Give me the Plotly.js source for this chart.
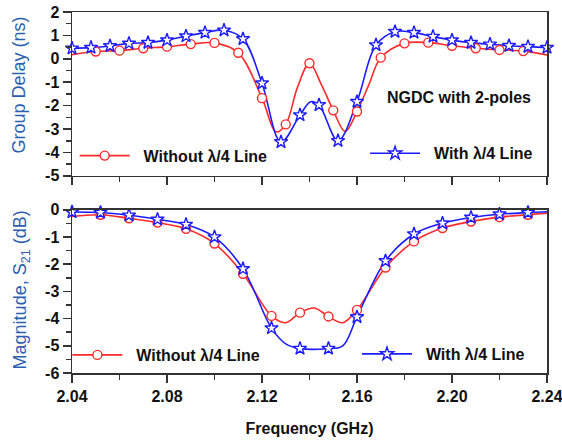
<!DOCTYPE html>
<html><head><meta charset="utf-8">
<script src="https://cdn.plot.ly/plotly-3.0.1.min.js"></script>
<style>html,body{margin:0;padding:0;background:#fff}#chart{width:562px;height:445px}</style>
</head><body><div id="chart"></div>
<script>
// ---------- Group delay (ns) ----------
// Without lambda/4 line: marker points and extra curve points
const gdWithoutMarkX = [2.05,2.06,2.07,2.08,2.09,2.10,2.11,2.12,2.13,2.14,2.15,2.16,2.17,2.18,2.19,2.20,2.21,2.22,2.23];
const gdWithoutMarkY = [0.31,0.35,0.45,0.52,0.63,0.68,0.26,-1.68,-2.80,-0.19,-2.20,-2.25,0.05,0.66,0.69,0.56,0.45,0.38,0.33];
const gdWithoutExtraX = [2.04,2.126,2.135,2.145,2.155,2.165,2.24];
const gdWithoutExtraY = [0.18,-3.12,-1.20,-1.10,-3.10,-1.10,0.17];
// With lambda/4 line
const gdWithMarkX = [2.040,2.048,2.056,2.064,2.072,2.080,2.088,2.096,2.104,2.112,2.120,2.128,2.136,2.144,2.152,2.160,2.168,2.176,2.184,2.192,2.200,2.208,2.216,2.224,2.232,2.240];
const gdWithMarkY = [0.45,0.48,0.55,0.66,0.69,0.80,0.97,1.12,1.22,0.85,-1.04,-3.55,-2.40,-1.97,-3.50,-1.83,0.59,1.16,1.12,0.95,0.80,0.69,0.62,0.56,0.52,0.48];
const gdWithExtraX = [2.1405];
const gdWithExtraY = [-1.83];

// ---------- Magnitude S21 (dB) ----------
const s21WithoutMarkX = [2.052,2.064,2.076,2.088,2.100,2.112,2.124,2.136,2.148,2.160,2.172,2.184,2.196,2.208,2.220,2.232];
const s21WithoutMarkY = [-0.18,-0.31,-0.47,-0.70,-1.24,-2.35,-3.90,-3.78,-3.92,-3.68,-2.12,-1.16,-0.67,-0.43,-0.27,-0.18];
const s21WithoutExtraX = [2.040,2.130,2.142,2.154,2.240];
const s21WithoutExtraY = [-0.24,-4.15,-3.61,-4.15,-0.12];
const s21WithMarkX = [2.040,2.052,2.064,2.076,2.088,2.100,2.112,2.124,2.136,2.148,2.160,2.172,2.184,2.196,2.208,2.220,2.232];
const s21WithMarkY = [-0.08,-0.10,-0.20,-0.35,-0.54,-1.00,-2.17,-4.35,-5.10,-5.10,-3.94,-1.88,-0.89,-0.49,-0.28,-0.16,-0.10];
const s21WithExtraX = [2.130,2.154,2.240];
const s21WithExtraY = [-4.93,-5.00,-0.07];

// ---------- ticks & labels ----------
const freqTickVals = [2.04,2.08,2.12,2.16,2.20,2.24];
const freqTickText = ['2.04','2.08','2.12','2.16','2.20','2.24'];
const gdTickVals = [2,1,0,-1,-2,-3,-4,-5];
const gdTickText = ['2','1','0','-1','-2','-3','-4','-5'];
const s21TickVals = [0,-1,-2,-3,-4,-5,-6];
const s21TickText = ['0','-1','-2','-3','-4','-5','-6'];
const nameWithout = 'Without λ/4 Line';
const nameWith = 'With λ/4 Line';
const titleGD = 'Group Delay (ns)';
const titleS21 = 'Magnitude, S<sub>21</sub> (dB)';
const titleFreq = 'Frequency (GHz)';
const noteText = 'NGDC with 2-poles';

function merge(ax, ay, bx, by) {
  const pts = ax.map((x,i)=>[x, ay[i]]).concat(bx.map((x,i)=>[x, by[i]]));
  pts.sort((p,q)=>p[0]-q[0]);
  return {x: pts.map(p=>p[0]), y: pts.map(p=>p[1])};
}

const RED = '#ff2a2a', BLUE = '#1c1cff';
const FONT = 'Liberation Sans, Arial, Helvetica, sans-serif';
const redMarker = {symbol:'circle', size:9, color:'white', line:{color:RED, width:1.4}};
const blueMarker = {symbol:'star', size:10, color:'white', line:{color:BLUE, width:1.4}};

function lineTrace(m, color, xa, ya) {
  return {x:m.x, y:m.y, xaxis:xa, yaxis:ya, mode:'lines', line:{color:color, width:1.6, shape:'spline', smoothing:1}, showlegend:false, hoverinfo:'skip'};
}
function markTrace(x, y, marker, xa, ya) {
  return {x:x, y:y, xaxis:xa, yaxis:ya, mode:'markers', marker:marker, showlegend:false, cliponaxis:false};
}
function legTrace(name, color, marker, xa, ya, leg) {
  return {x:[null], y:[null], xaxis:xa, yaxis:ya, mode:'lines+markers', name:'\u00a0\u00a0'+name, line:{color:color, width:1.6}, marker:marker, legend:leg, showlegend:true};
}

const data = [
  lineTrace(merge(gdWithoutMarkX, gdWithoutMarkY, gdWithoutExtraX, gdWithoutExtraY), RED, 'x', 'y'),
  lineTrace(merge(gdWithMarkX, gdWithMarkY, gdWithExtraX, gdWithExtraY), BLUE, 'x', 'y'),
  markTrace(gdWithoutMarkX, gdWithoutMarkY, redMarker, 'x', 'y'),
  markTrace(gdWithMarkX, gdWithMarkY, blueMarker, 'x', 'y'),
  lineTrace(merge(s21WithoutMarkX, s21WithoutMarkY, s21WithoutExtraX, s21WithoutExtraY), RED, 'x2', 'y2'),
  lineTrace(merge(s21WithMarkX, s21WithMarkY, s21WithExtraX, s21WithExtraY), BLUE, 'x2', 'y2'),
  markTrace(s21WithoutMarkX, s21WithoutMarkY, redMarker, 'x2', 'y2'),
  markTrace(s21WithMarkX, s21WithMarkY, blueMarker, 'x2', 'y2'),
  legTrace(nameWithout, RED, redMarker, 'x', 'y', 'legend'),
  legTrace(nameWith, BLUE, blueMarker, 'x', 'y', 'legend2'),
  legTrace(nameWithout, RED, redMarker, 'x2', 'y2', 'legend3'),
  legTrace(nameWith, BLUE, blueMarker, 'x2', 'y2', 'legend4')
];

const TITLEBLUE = '#2b5fad';
const tickFont = {family:FONT, size:16, weight:'bold', color:'#111'};
const axisLine = {showline:true, linewidth:1.5, linecolor:'#333', mirror:true, showgrid:false, zeroline:false, ticks:'outside', ticklen:8, tickwidth:1.5, tickcolor:'#333'};
const xCommon = Object.assign({}, axisLine, {range:[2.04,2.24], tickmode:'array', tickvals:freqTickVals, ticktext:freqTickText,
  minor:{tickmode:'linear', tick0:2.04, dtick:0.02, ticks:'outside', ticklen:5, tickwidth:1.5, tickcolor:'#333'}});
function legendBox(x, y) {
  return {x:x, y:y, xanchor:'left', yanchor:'middle', bgcolor:'rgba(0,0,0,0)', borderwidth:0, itemwidth:50,
    font:{family:FONT, size:16, weight:'bold', color:'#111'}};
}
function yTitle(text, x, y) {
  return {xref:'paper', yref:'paper', x:x, y:y, xanchor:'center', yanchor:'middle', textangle:-90, showarrow:false,
    text:text, font:{family:FONT, size:18, color:TITLEBLUE}};
}

const layout = {
  width:562, height:445,
  margin:{l:72, r:15, t:12, b:72},
  paper_bgcolor:'white', plot_bgcolor:'white',
  showlegend:true,
  xaxis: Object.assign({}, xCommon, {anchor:'y', showticklabels:false}),
  xaxis2: Object.assign({}, xCommon, {anchor:'y2', matches:'x', tickfont:tickFont, ticklabeloverflow:'allow',
    title:{text:titleFreq, font:{family:FONT, size:16, weight:'bold', color:'#111'}, standoff:19}}),
  yaxis: Object.assign({}, axisLine, {domain:[0.546,1], anchor:'x', range:[-5,2], tickmode:'array', tickvals:gdTickVals, ticktext:gdTickText, tickfont:tickFont,
    minor:{tickmode:'linear', tick0:0, dtick:0.5, ticks:'outside', ticklen:5, tickwidth:1.5, tickcolor:'#333'}}),
  yaxis2: Object.assign({}, axisLine, {domain:[0,0.452], anchor:'x2', range:[-6,0], tickmode:'array', tickvals:s21TickVals, ticktext:s21TickText, tickfont:tickFont,
    minor:{tickmode:'linear', tick0:0, dtick:0.5, ticks:'outside', ticklen:5, tickwidth:1.5, tickcolor:'#333'}}),
  legend: legendBox(0.0057, 0.602),
  legend2: legendBox(0.617, 0.6086),
  legend3: legendBox(-0.0097, 0.0499),
  legend4: legendBox(0.600, 0.0526),
  annotations:[
    {xref:'paper', yref:'paper', x:0.815, y:0.762, xanchor:'center', yanchor:'middle', showarrow:false,
     text:noteText, font:{family:FONT, size:16, weight:'bold', color:'#111'}},
    yTitle(titleGD, -0.1113, 0.7966),
    yTitle(titleS21, -0.106, 0.2306)
  ]
};

Plotly.newPlot('chart', data, layout, {displayModeBar:false, staticPlot:true});
</script>
</body></html>
